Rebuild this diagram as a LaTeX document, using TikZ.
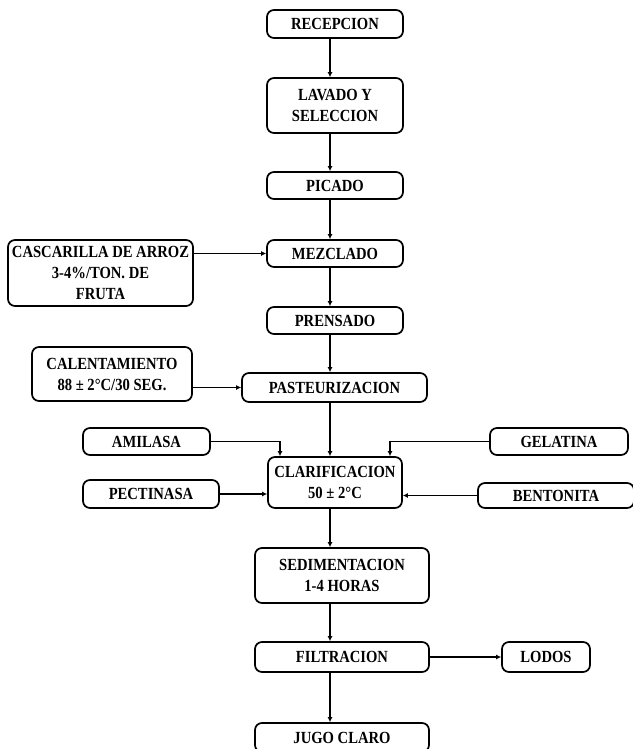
\documentclass[tikz,border=0pt]{standalone}
\usepackage{fontspec}
\setmainfont[FakeStretch=0.86]{Liberation Serif}
\usetikzlibrary{arrows.meta,calc}
\tikzset{
    etapa/.style={draw, rounded corners=7pt, line width=1.7pt, align=center, inner sep=0pt,
      font=\bfseries\fontsize{17}{21}\selectfont},
    flujo/.style={line width=1.4pt, -{Latex[length=5pt,width=5pt]}},
  }

\begin{document}
\begin{tikzpicture}[x=1pt,y=-1pt]
				  %eje vertical del proceso
				  \useasboundingbox (0,0) rectangle (632,749);
				  \coordinate(eje) at (330,0);

				  \node[etapa, minimum width=136pt, minimum height=28pt] (rec) at (335,24) {RECEPCION};
				  \node[etapa, minimum width=136pt, minimum height=55pt] (lav) at (335,105.5) {LAVADO Y\\SELECCION};
				  \node[etapa, minimum width=136pt, minimum height=27pt] (pic) at (335,185.5) {PICADO};
				  \node[etapa, minimum width=136pt, minimum height=27pt] (mez) at (335,253.5) {MEZCLADO};
				  \node[etapa, minimum width=185pt, minimum height=66pt] (cas) at (100.5,273) {CASCARILLA DE ARROZ\\3-4\%/TON. DE\\FRUTA};
				  \node[etapa, minimum width=136pt, minimum height=27pt] (pre) at (335,320.5) {PRENSADO};
				  \node[etapa, minimum width=160pt, minimum height=54pt] (cal) at (112,374) {CALENTAMIENTO\\88 ± 2°C/30 SEG.};
				  \node[etapa, minimum width=185pt, minimum height=29pt] (pas) at (334.5,387.5) {PASTEURIZACION};
				  \node[etapa, minimum width=127pt, minimum height=27pt] (ami) at (146.5,441.5) {AMILASA};
				  \node[etapa, minimum width=138pt, minimum height=27pt] (gel) at (559,441.5) {GELATINA};
				  \node[etapa, minimum width=134pt, minimum height=51pt] (cla) at (335,482.5) {CLARIFICACION\\50 ± 2°C};
				  \node[etapa, minimum width=136pt, minimum height=28pt] (pec) at (151,494) {PECTINASA};
				  \node[etapa, minimum width=156pt, minimum height=25pt] (ben) at (556,495.5) {BENTONITA};
				  \node[etapa, minimum width=174pt, minimum height=55pt] (sed) at (342,575.5) {SEDIMENTACION\\1-4 HORAS};
				  \node[etapa, minimum width=174pt, minimum height=30pt] (fil) at (342,657) {FILTRACION};
				  \node[etapa, minimum width=88pt, minimum height=30pt] (lod) at (546,657) {LODOS};
				  \node[etapa, minimum width=174pt, minimum height=29pt] (jug) at (342,737.5) {JUGO CLARO};

				  \draw[flujo] (rec.south -| eje) -- (lav.north -| eje);
				  \draw[flujo] (lav.south -| eje) -- (pic.north -| eje);
				  \draw[flujo] (pic.south -| eje) -- (mez.north -| eje);
				  \draw[flujo] (mez.south -| eje) -- (pre.north -| eje);
				  \draw[flujo] (pre.south -| eje) -- (pas.north -| eje);
				  \draw[flujo] (pas.south -| eje) -- (cla.north -| eje);
				  \draw[flujo] (cla.south -| eje) -- (sed.north -| eje);
				  \draw[flujo] (sed.south -| eje) -- (fil.north -| eje);
				  \draw[flujo] (fil.south -| eje) -- (jug.north -| eje);
				  \draw[flujo] (mez.west -| cas.east) -- (mez.west);
				  \draw[flujo] (pas.west -| cal.east) -- (pas.west);
				  \draw[flujo] (ami.east) -| ([xshift=-55pt]cla.north);
				  \draw[flujo] (gel.west) -| ([xshift=55pt]cla.north);
				  \draw[flujo] (pec.east) -- (pec.east -| cla.west);
				  \draw[flujo] (ben.west) -- (ben.west -| cla.east);
				  \draw[flujo] (fil.east) -- (lod.west);
				  \end{tikzpicture}
\end{document}
